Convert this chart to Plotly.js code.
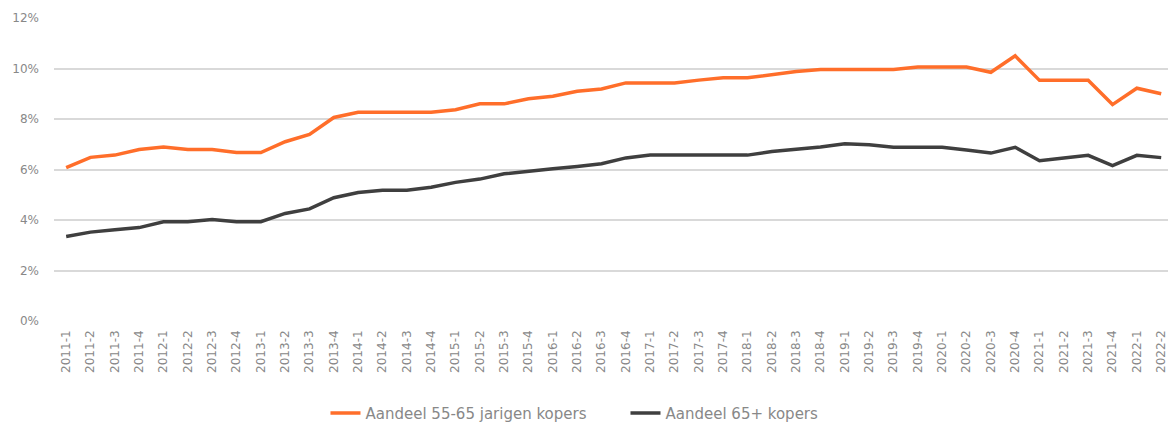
<!DOCTYPE html>
<html>
<head>
<meta charset="utf-8">
<script src="https://cdn.plot.ly/plotly-3.0.1.min.js"></script>
<style>html,body{margin:0;padding:0;background:#fff;}#chart{width:1168px;height:423px;}</style>
</head>
<body>
<div id="chart"></div>
<script>
const quarters = ["2011-1","2011-2","2011-3","2011-4","2012-1","2012-2","2012-3","2012-4","2013-1","2013-2","2013-3","2013-4","2014-1","2014-2","2014-3","2014-4","2015-1","2015-2","2015-3","2015-4","2016-1","2016-2","2016-3","2016-4","2017-1","2017-2","2017-3","2017-4","2018-1","2018-2","2018-3","2018-4","2019-1","2019-2","2019-3","2019-4","2020-1","2020-2","2020-3","2020-4","2021-1","2021-2","2021-3","2021-4","2022-1","2022-2"];
const share5565 = [6.07,6.48,6.57,6.79,6.89,6.79,6.79,6.67,6.67,7.10,7.39,8.06,8.27,8.27,8.27,8.27,8.37,8.6,8.6,8.8,8.9,9.1,9.19,9.43,9.43,9.43,9.54,9.63,9.63,9.76,9.88,9.96,9.96,9.96,9.96,10.06,10.06,10.06,9.85,10.5,9.53,9.53,9.53,8.57,9.22,9.0];
const share65plus = [3.35,3.52,3.61,3.70,3.93,3.93,4.02,3.93,3.93,4.26,4.44,4.88,5.09,5.18,5.18,5.30,5.49,5.62,5.83,5.94,6.03,6.12,6.23,6.46,6.57,6.57,6.57,6.57,6.57,6.71,6.80,6.89,7.02,6.98,6.88,6.88,6.88,6.77,6.65,6.88,6.35,6.46,6.56,6.15,6.56,6.47];
const yTicks = [0,2,4,6,8,10,12];
const yTickText = ["0%","2%","4%","6%","8%","10%","12%"];
const seriesNames = ["Aandeel 55-65 jarigen kopers","Aandeel 65+ kopers"];

const idx = quarters.map((q,i)=>i);
const traces = [
  {x: idx, y: share5565, type:"scatter", mode:"lines", name: seriesNames[0],
   line:{color:"#FF6E2A", width:3.5}},
  {x: idx, y: share65plus, type:"scatter", mode:"lines", name: seriesNames[1],
   line:{color:"#3F3F3F", width:3.5}}
];
const layout = {
  width:1168, height:423, autosize:false,
  margin:{l:54, r:0, t:18, b:102, autoexpand:false},
  paper_bgcolor:"#fff", plot_bgcolor:"#fff",
  font:{family:"'DejaVu Sans', sans-serif", size:12, color:"#888888"},
  xaxis:{
    tickmode:"array", tickvals: idx, ticktext: quarters, automargin:false,
    range:[-0.5, 45.28], tickangle:-90, showgrid:false, zeroline:false,
    showline:false, ticks:"", ticklen:0, ticklabeloverflow:"allow", ticklabelstandoff:6,
    tickfont:{size:12, color:"#888888"}
  },
  yaxis:{
    range:[0,12], tickmode:"array", tickvals:yTicks, ticktext:yTickText, automargin:false,
    showgrid:true, gridcolor:"#d9d9d9", gridwidth:2, zeroline:false,
    showline:false, ticks:"", ticklabelstandoff:14, tickfont:{size:12, color:"#888888"}
  },
  showlegend:true,
  legend:{orientation:"h", x:0.513, xanchor:"center", y:-0.25, yanchor:"top",
    font:{size:15, color:"#888888"}, traceorder:"normal", entrywidth:255, entrywidthmode:"pixels"}
};
Plotly.newPlot("chart", traces, layout, {displayModeBar:false, staticPlot:true});
</script>
</body>
</html>
